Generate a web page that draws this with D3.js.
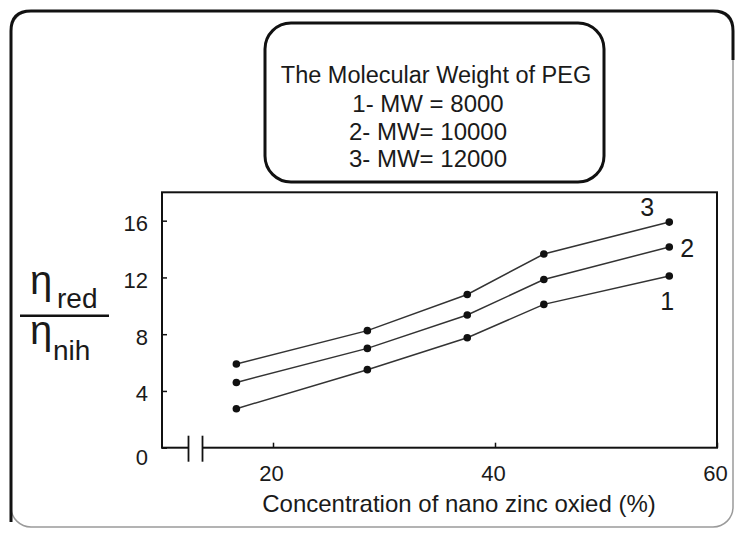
<!DOCTYPE html>
<html>
<head>
<meta charset="utf-8">
<script src="https://cdn.jsdelivr.net/npm/d3@7"></script>
<style>
  body { margin: 0; background: #fff; }
  svg { display: block; font-family: "Liberation Sans", Arial, sans-serif; }
</style>
</head>
<body>
<svg id="chart" width="736" height="534"></svg>
<script>
// concentration of nano zinc oxide (%)
const conc = [16.7, 28.5, 37.5, 44.4, 55.7];
// reduced / inherent viscosity ratio, one array per PEG molecular weight
const mw8000 = [2.75, 5.5, 7.75, 10.1, 12.1];
const mw10000 = [4.6, 7.0, 9.35, 11.85, 14.15];
const mw12000 = [5.9, 8.25, 10.8, 13.65, 15.9];
const seriesNames = ["1", "2", "3"];
const legendTitle = "The Molecular Weight of PEG";
const legendLines = ["1- MW = 8000", "2- MW= 10000", "3- MW= 12000"];
const xTicks = [20, 40, 60];
const yTicks = [0, 4, 8, 12, 16];

const series = [mw8000, mw10000, mw12000];

const svg = d3.select("#chart");
const ink = "#1a1a1a";

// outer frame: light right/bottom, heavy left/top
svg.append("rect")
  .attr("x", 11).attr("y", 11).attr("width", 722).attr("height", 516)
  .attr("rx", 20)
  .attr("fill", "none").attr("stroke", "#9a9a9a").attr("stroke-width", 1.5);
svg.append("path")
  .attr("d", "M11,522 L11,31 Q11,11 31,11 L713,11 Q733,11 733,31 L733,60")
  .attr("fill", "none").attr("stroke", "#111").attr("stroke-width", 3);

// legend box
svg.append("rect")
  .attr("x", 265).attr("y", 23).attr("width", 339).attr("height", 159)
  .attr("rx", 26)
  .attr("fill", "none").attr("stroke", "#111").attr("stroke-width", 3);
svg.append("text")
  .attr("x", 436).attr("y", 83)
  .attr("text-anchor", "middle")
  .style("font-size", "23.5px").attr("fill", ink)
  .text(legendTitle);
svg.selectAll("text.leg").data(legendLines).join("text")
  .attr("class", "leg")
  .attr("x", 428).attr("y", (d, i) => 112 + i * 27.5)
  .attr("text-anchor", "middle")
  .style("font-size", "24px").attr("fill", ink)
  .text(d => d);

// scales
const x = d3.scaleLinear().domain([10, 60]).range([162, 717]);
const y = d3.scaleLinear().domain([0, 18]).range([447.7, 192.3]);

// axes (ticks point inward)
const gx = svg.append("g")
  .attr("transform", `translate(0,${y(0)})`)
  .call(d3.axisBottom(x).tickValues(xTicks).tickSize(-5).tickPadding(18));
const gy = svg.append("g")
  .attr("transform", `translate(${x(10)},0)`)
  .call(d3.axisLeft(y).tickValues(yTicks).tickSize(-5).tickPadding(14));
[gx, gy].forEach(g => {
  g.attr("font-size", null).attr("font-family", null);
  g.select(".domain").remove();
  g.selectAll("line").attr("stroke", "#111").attr("stroke-width", 1.5);
  g.selectAll("text")
    .style("font-size", "22px").attr("fill", ink);
});
gx.selectAll("text").attr("dx", -2);
gy.selectAll("text").attr("dy", d => d === 0 ? "0.75em" : "0.45em");

// plot frame
svg.append("rect")
  .attr("x", x(10)).attr("y", y(18))
  .attr("width", x(60) - x(10)).attr("height", y(0) - y(18))
  .attr("fill", "none").attr("stroke", "#111").attr("stroke-width", 2);

// axis break on the x axis
svg.append("rect")
  .attr("x", 189).attr("y", y(0) - 2).attr("width", 13).attr("height", 4)
  .attr("fill", "#fff");
svg.selectAll("line.brk").data([188.5, 202.5]).join("line")
  .attr("class", "brk")
  .attr("x1", d => d).attr("x2", d => d)
  .attr("y1", y(0) - 12).attr("y2", y(0) + 14)
  .attr("stroke", "#111").attr("stroke-width", 1.8);

// lines and markers
const line = d3.line().x((d, i) => x(conc[i])).y(d => y(d));
series.forEach(s => {
  svg.append("path")
    .datum(s)
    .attr("d", line)
    .attr("fill", "none").attr("stroke", "#333").attr("stroke-width", 1.5);
  svg.append("g").selectAll("circle").data(s).join("circle")
    .attr("cx", (d, i) => x(conc[i])).attr("cy", d => y(d))
    .attr("r", 3.8).attr("fill", "#111");
});

// series numbers near the last points
const labelOffsets = [[-2, 34], [18, 10], [-22, -6]];
const last = conc.length - 1;
svg.selectAll("text.num").data(series).join("text")
  .attr("class", "num")
  .attr("x", (d, i) => x(conc[last]) + labelOffsets[i][0])
  .attr("y", (d, i) => y(d[last]) + labelOffsets[i][1])
  .attr("text-anchor", "middle")
  .style("font-size", "25px").attr("fill", ink)
  .text((d, i) => seriesNames[i]);

// x axis title
svg.append("text")
  .attr("x", 459).attr("y", 512)
  .attr("text-anchor", "middle")
  .style("font-size", "24px").attr("fill", ink)
  .text("Concentration of nano zinc oxied (%)");

// y axis title: eta_red / eta_nih
const yl = svg.append("g").attr("fill", ink);
yl.append("text").attr("x", 30).attr("y", 294).style("font-size", "40px").text("η");
yl.append("text").attr("x", 57).attr("y", 308).style("font-size", "28px").text("red");
yl.append("line")
  .attr("x1", 20).attr("x2", 109).attr("y1", 315.7).attr("y2", 315.7)
  .attr("stroke", "#111").attr("stroke-width", 2.5);
yl.append("text").attr("x", 30).attr("y", 344).style("font-size", "40px").text("η");
yl.append("text").attr("x", 53).attr("y", 360).style("font-size", "28px").text("nih");
</script>
</body>
</html>
